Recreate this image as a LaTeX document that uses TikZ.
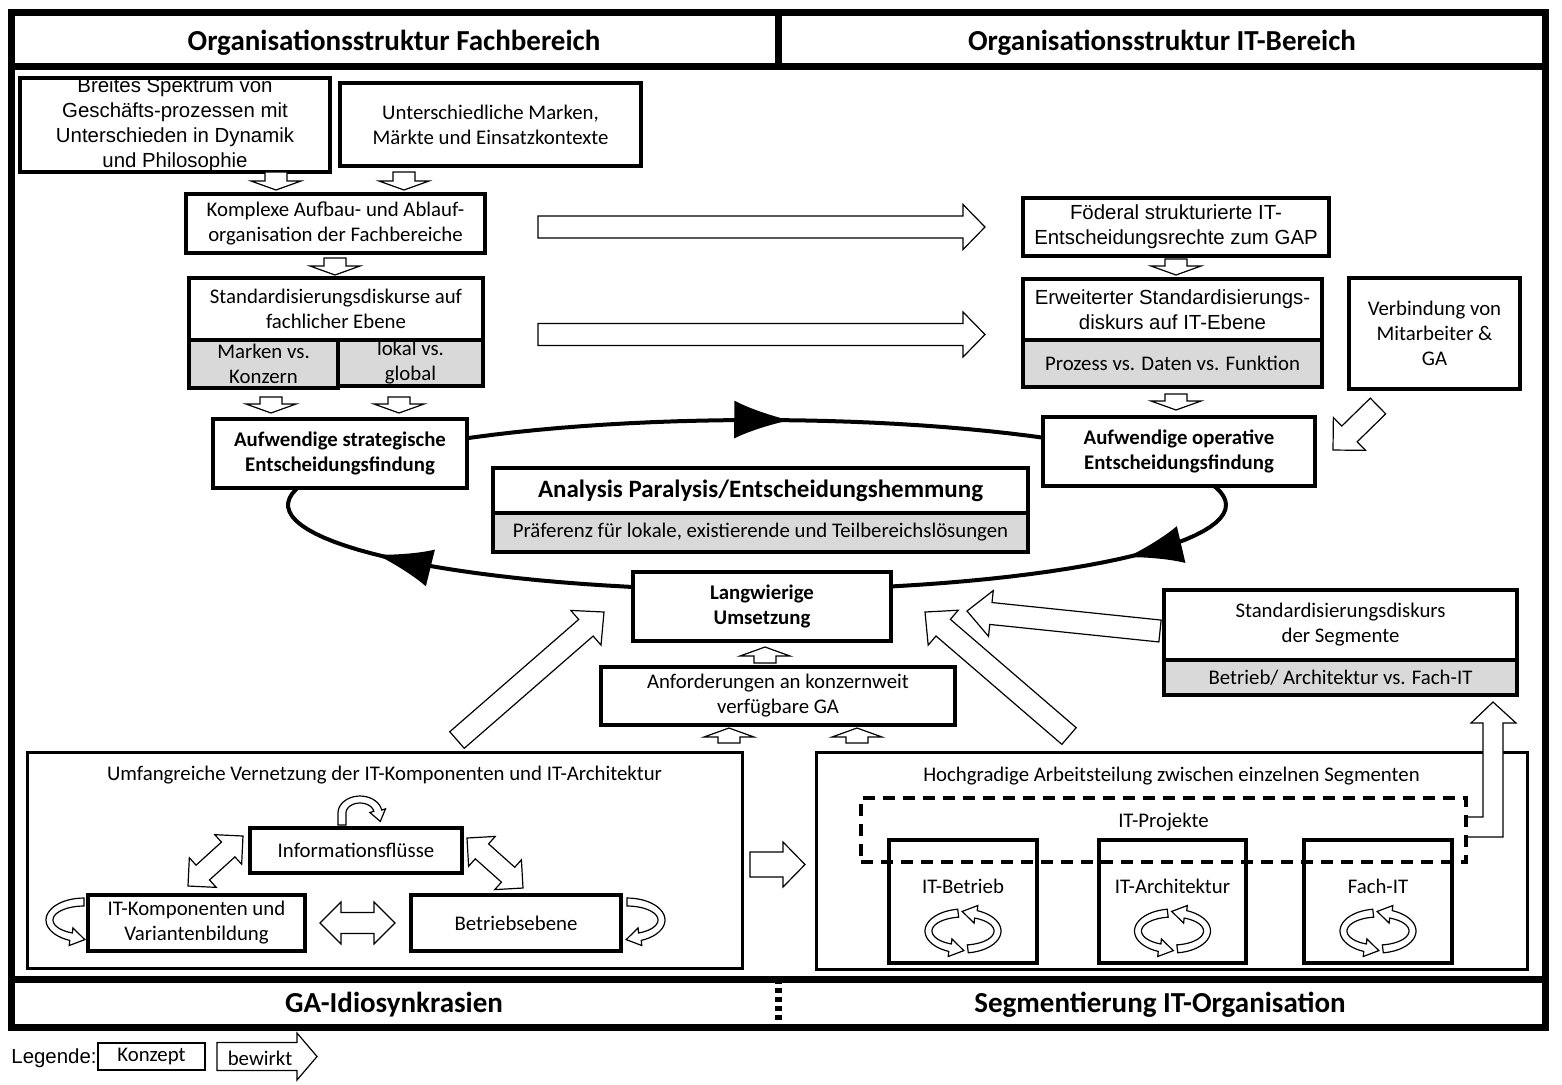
\documentclass[tikz,border=0pt]{standalone}
\usepackage{fontspec}
\setmainfont{Carlito}
\newfontfamily\arialfont{Liberation Sans}
\usepackage{tikz}
\usetikzlibrary{arrows.meta,positioning,calc,decorations.markings}
\definecolor{cellgray}{RGB}{217,217,217}
\newcommand{\bodyfont}{\fontsize{10.4}{12.5}\selectfont}
\newcommand{\arialtext}{\arialfont\fontsize{10.2}{12.5}\selectfont}
\tikzset{
  wh/.style 2 args = {minimum width=#1*0.5pt, minimum height=#2*0.5pt},
  box/.style       = {draw, line width=2pt, fill=white, inner sep=0pt, outer sep=0pt,
                      align=center, font=\bodyfont},
  cell/.style      = {box, fill=cellgray},
  boldbox/.style   = {box, font=\bodyfont\bfseries},
  container/.style = {draw, line width=1.5pt, inner sep=0pt, outer sep=0pt},
  dashbox/.style   = {draw, line width=2pt, dash pattern=on 6pt off 4pt,
                      inner sep=0pt, outer sep=0pt},
  heading/.style   = {font=\fontsize{14.5}{17}\selectfont\bfseries},
  caption/.style   = {font=\bodyfont, align=center},
  frameline/.style = {line width=3.5pt},
  fatline/.style   = {draw, fill=white, line width=0.6pt, line join=miter},
  loopline/.style  = {line width=2pt, postaction={decorate}, decoration={markings,
      mark=at position 0.06 with {\arrow{Latex[length=28pt,width=19pt]}},
      mark=at position 0.446 with {\arrow{Latex[length=28pt,width=19pt]}},
      mark=at position 0.767 with {\arrow{Latex[length=28pt,width=19pt]}}}},
  pics/curlband/.style = {code={
    \draw[fatline] plot[domain=#1:112,samples=24] ({38*cos(\x)},{22*sin(\x)})
      -- (-14.8,25.5) -- (0.8,19.6) -- (-11.1,7.9)
      -- plot[domain=112:#1,samples=24] ({31*cos(\x)},{14*sin(\x)}) -- cycle;}},
}
\newcommand{\fatarrow}[5]{%
  \coordinate (fah) at ($(#2)!#5!(#1)$);
  \draw[fatline] ($(#1)!#3!90:(#2)$) -- ($(fah)!#3!-90:(#1)$) -- ($(fah)!#4!-90:(#1)$)
    -- (#2) -- ($(fah)!#4!90:(#1)$) -- ($(fah)!#3!90:(#1)$) -- ($(#1)!#3!-90:(#2)$) -- cycle;}
\newcommand{\dblarrow}[5]{%
  \coordinate (dha) at ($(#1)!#5!(#2)$);
  \coordinate (dhb) at ($(#2)!#5!(#1)$);
  \draw[fatline] (#1) -- ($(dha)!#4!90:(#2)$) -- ($(dha)!#3!90:(#2)$) -- ($(dhb)!#3!-90:(#1)$)
    -- ($(dhb)!#4!-90:(#1)$) -- (#2) -- ($(dhb)!#4!90:(#1)$) -- ($(dhb)!#3!90:(#1)$)
    -- ($(dha)!#3!-90:(#2)$) -- ($(dha)!#4!-90:(#2)$) -- cycle;}

\begin{document}
\begin{tikzpicture}[x=0.5pt, y=-0.5pt]
\useasboundingbox (0,0) rectangle (1562,1084);

\draw[frameline] (11,12.5) rectangle (1545,1027);
\draw[frameline] (11,66) -- (1545,66);
\draw[frameline] (11,979) -- (1545,979);
\draw[frameline] (778,12.5) -- (778,66);
\draw[frameline, dash pattern=on 2.5pt off 2pt] (778,979) -- (778,1027);
\node[heading] (hfach) at (394,43) {Organisationsstruktur Fachbereich};
\node[heading] (hit) at (1162,43) {Organisationsstruktur IT-Bereich};
\node[heading] (fga) at (394,1005) {GA-Idiosynkrasien};
\node[heading] (fseg) at (1160,1005) {Segmentierung IT-Organisation};

\draw[loopline] plot[domain=0:360,samples=120] ({757+469*cos(\x)},{505+85*sin(\x)});

\node[box, font=\arialtext, wh={310}{83}] (spektrum) at (175,124.5)
   {Breites Spektrum von\\Geschäfts-prozessen mit\\Unterschieden in Dynamik\\und Philosophie};
\node[box, wh={301}{83}] (marken) at (490.5,124.5) {Unterschiedliche Marken,\\Märkte und Einsatzkontexte};
\node[box, wh={299}{59}] (komplex) at (335.5,223.5) {Komplexe Aufbau- und Ablauf-\\organisation der Fachbereiche};
\node[box, wh={294}{62}] (fachstd) at (336,309) {Standardisierungsdiskurse auf\\fachlicher Ebene};
\node[cell, wh={149}{48}, anchor=north west] (mvk) at (fachstd.south west) {Marken vs.\\Konzern};
\node[cell, wh={145}{46}, anchor=north west] (lvg) at (mvk.north east) {lokal vs.\\global};
\node[boldbox, wh={254}{69}] (strat) at (340,453.5) {Aufwendige strategische\\Entscheidungsfindung};

\node[box, font=\arialtext, wh={306}{58}] (foed) at (1176,227) {Föderal strukturierte IT-\\Entscheidungsrechte zum GAP};
\node[box, font=\arialtext, wh={299}{61}] (itstd) at (1172.5,309.5) {Erweiterter Standardisierungs-\\diskurs auf IT-Ebene};
\node[cell, wh={299}{47}, anchor=north] (pdf) at (itstd.south) {Prozess vs. Daten vs. Funktion};
\node[box, wh={171}{111}] (verb) at (1434.5,333.5) {Verbindung von\\Mitarbeiter \&\\GA};
\node[boldbox, wh={272}{69}] (oper) at (1179,451.5) {Aufwendige operative\\Entscheidungsfindung};

\node[box, wh={535}{45}, font=\fontsize{12.5}{15}\selectfont\bfseries] (paral) at (760.5,490.5)
   {Analysis Paralysis/Entscheidungshemmung};
\node[cell, wh={535}{39}, anchor=north] (pref) at (paral.south) {Präferenz für lokale, existierende und Teilbereichslösungen};
\node[boldbox, wh={258}{69}] (lang) at (762,606.5) {Langwierige\\Umsetzung};
\node[box, wh={354}{58}] (anf) at (778,696) {Anforderungen an konzernweit\\verfügbare GA};
\node[box, wh={353}{70}] (segstd) at (1340.5,625) {Standardisierungsdiskurs\\der Segmente};
\node[cell, wh={353}{35}, anchor=north] (bak) at (segstd.south) {Betrieb/ Architektur vs. Fach-IT};

\coordinate (d1a) at (276,172);  \coordinate (d1b) at (276,190);
\coordinate (d2a) at (404,172);  \coordinate (d2b) at (404,190);
\coordinate (d3a) at (335,258);  \coordinate (d3b) at (335,275);
\coordinate (d4a) at (271,397);  \coordinate (d4b) at (271,413);
\coordinate (d5a) at (399,397);  \coordinate (d5b) at (399,413);
\coordinate (d6a) at (1176,259); \coordinate (d6b) at (1176,275);
\coordinate (d7a) at (1176,394); \coordinate (d7b) at (1176,410);
\coordinate (u1a) at (765,663);  \coordinate (u1b) at (765,647);
\coordinate (u2a) at (729,743);  \coordinate (u2b) at (729,728);
\coordinate (u3a) at (857,743);  \coordinate (u3b) at (857,728);
\fatarrow{d1a}{d1b}{5.5pt}{12.5pt}{4.5pt}
\fatarrow{d2a}{d2b}{5.5pt}{12.5pt}{4.5pt}
\fatarrow{d3a}{d3b}{5.5pt}{12.5pt}{4.5pt}
\fatarrow{d4a}{d4b}{5.5pt}{12.5pt}{4.5pt}
\fatarrow{d5a}{d5b}{5.5pt}{12.5pt}{4.5pt}
\fatarrow{d6a}{d6b}{5.5pt}{12.5pt}{4.5pt}
\fatarrow{d7a}{d7b}{5.5pt}{12.5pt}{4.5pt}
\fatarrow{u1a}{u1b}{5.5pt}{12.5pt}{4.5pt}
\fatarrow{u2a}{u2b}{5.5pt}{12.5pt}{4.5pt}
\fatarrow{u3a}{u3b}{5.5pt}{12.5pt}{4.5pt}

\coordinate (r1a) at (538,227);   \coordinate (r1b) at (985,227);
\coordinate (r2a) at (538,334.5); \coordinate (r2b) at (985,334.5);
\coordinate (vba) at (1378,406);  \coordinate (vbb) at (1333,450);
\coordinate (f1a) at (457,740);   \coordinate (f1b) at (604,612);
\coordinate (f2a) at (1069,736);  \coordinate (f2b) at (925,612);
\coordinate (f3a) at (1160,631);  \coordinate (f3b) at (967,611);
\coordinate (f4a) at (750,864.5); \coordinate (f4b) at (805,864.5);
\fatarrow{r1a}{r1b}{5.5pt}{11.25pt}{11pt}
\fatarrow{r2a}{r2b}{5.5pt}{11.25pt}{11pt}
\fatarrow{vba}{vbb}{5.5pt}{11.5pt}{11.5pt}
\fatarrow{f1a}{f1b}{5.5pt}{11.5pt}{12pt}
\fatarrow{f2a}{f2b}{5.5pt}{11.5pt}{12pt}
\fatarrow{f3a}{f3b}{5.5pt}{11.5pt}{12pt}
\fatarrow{f4a}{f4b}{6.25pt}{11.25pt}{11pt}

\node[container, wh={715}{216}] (vernetz) at (384.5,860) {};
\node[caption] (vernetzlbl) at ($(vernetz.north)+(0,23)$) {Umfangreiche Vernetzung der IT-Komponenten und IT-Architektur};
\node[box, wh={212}{45}] (info) at (356,850.5) {Informationsflüsse};
\node[box, wh={217}{56}] (itkomp) at (196.5,923) {IT-Komponenten und\\Variantenbildung};
\node[box, wh={210}{56}] (betr) at (516,923) {Betriebsebene};
\coordinate (k1a) at (320,923); \coordinate (k1b) at (395,923);
\coordinate (k2a) at (188,886); \coordinate (k2b) at (243,836);
\coordinate (k3a) at (467,838); \coordinate (k3b) at (523,888);
\dblarrow{k1a}{k1b}{5.25pt}{10.5pt}{10.5pt}
\dblarrow{k2a}{k2b}{5pt}{10pt}{10pt}
\dblarrow{k3a}{k3b}{5pt}{10pt}{10pt}
\draw[fatline, shift={($(info.north)+(4,-15)$)}] (-22,12)
   -- plot[domain=180:350,samples=20] ({22*cos(\x)},{17*sin(\x)})
   -- (25.5,-4.2) -- (20.3,8.4) -- (9.9,-0.5)
   -- plot[domain=350:180,samples=20] ({14*cos(\x)},{10*sin(\x)}) -- (-14,12) -- cycle;
\pic at ($(itkomp.west)+(-4,-3)$) {curlband=270};
\pic[xscale=-1] at ($(betr.east)+(6,-3)$) {curlband=270};

\node[container, wh={711}{217}] (hoch) at (1171.5,860.5) {};
\node[caption] (hochlbl) at ($(hoch.north)+(0,24)$) {Hochgradige Arbeitsteilung zwischen einzelnen Segmenten};
\node[box, wh={148}{123}] (itbetr) at (963,901.5) {};
\node[box, wh={147}{123}, right=31pt of itbetr] (itarch) {};
\node[box, wh={148}{123}, right=29pt of itarch] (fachit) {};
\node[caption] (itbetrlbl) at ($(itbetr.north)+(0,46)$) {IT-Betrieb};
\node[caption] (itarchlbl) at ($(itarch.north)+(0,46)$) {IT-Architektur};
\node[caption] (fachitlbl) at ($(fachit.north)+(0,46)$) {Fach-IT};
\pic at ($(itbetr.south)+(0,-32)$) {curlband=262};
\pic[rotate=180] at ($(itbetr.south)+(0,-32)$) {curlband=262};
\pic at ($(itarch.south)+(0,-32)$) {curlband=262};
\pic[rotate=180] at ($(itarch.south)+(0,-32)$) {curlband=262};
\pic at ($(fachit.south)+(0,-32)$) {curlband=262};
\pic[rotate=180] at ($(fachit.south)+(0,-32)$) {curlband=262};
\draw[fatline] (1466,817) -- (1483,817) -- (1483,723) -- (1471,723) -- (1493,702)
   -- (1516,723) -- (1503,723) -- (1503,837) -- (1466,837);
\node[dashbox, wh={605}{64}] (itproj) at (1163.5,830) {};
\node[caption] (itprojlbl) at ($(itproj.north)+(0,24)$) {IT-Projekte};

\node[font=\arialtext] (leg) at (54,1058) {Legende:};
\node[box, line width=1pt, wh={107}{27}] (konz) at (151.5,1056.5) {Konzept};
\coordinate (bwa) at (217,1056.5); \coordinate (bwb) at (317,1056.5);
\fatarrow{bwa}{bwb}{7pt}{11.75pt}{10pt}
\node[caption] (bew) at (260,1058) {bewirkt};
\end{tikzpicture}
\end{document}
